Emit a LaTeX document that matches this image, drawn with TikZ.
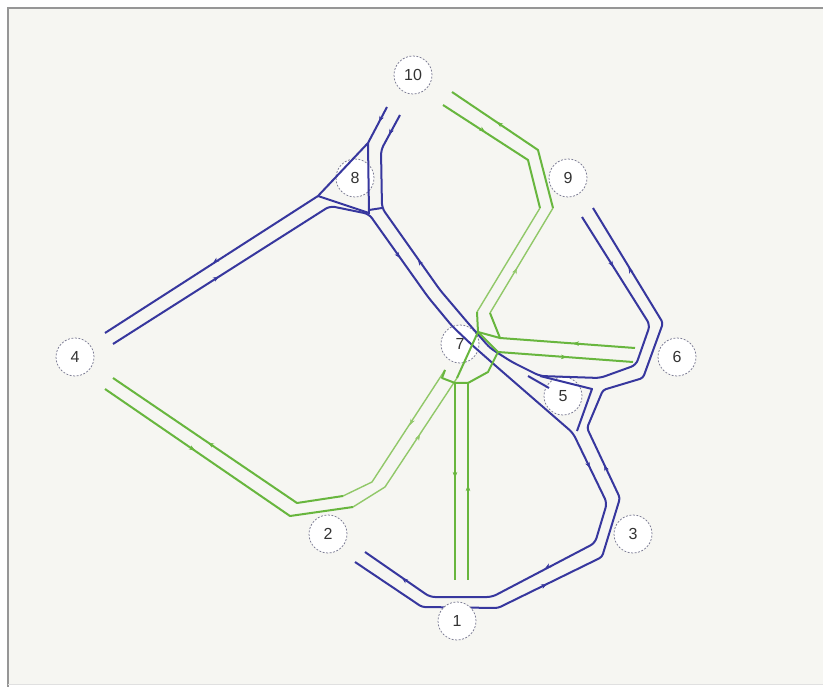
\documentclass[tikz,border=0pt]{standalone}
\usepackage{fontspec}
\setmainfont{Liberation Sans}
\usetikzlibrary{arrows.meta,decorations.markings}
\definecolor{rb}{RGB}{55,55,158}
\definecolor{rg}{RGB}{104,182,62}
\definecolor{rgl}{RGB}{145,200,105}
\definecolor{cir}{RGB}{115,115,140}
\definecolor{bgc}{RGB}{246,246,242}
\definecolor{framec}{RGB}{150,150,150}
\begin{document}
\begin{tikzpicture}[x=1pt,y=-1pt,
  blueln/.style={draw=rb, line width=2pt, line join=round},
  greenln/.style={draw=rg, line width=2pt, line join=round},
  lgreenln/.style={draw=rgl, line width=1.4pt, line join=round},
  stn/.style={circle, draw=cir, dash pattern=on 2pt off 1.5pt, line width=0.7pt, fill=white, minimum size=38pt, inner sep=0pt, font=\fontsize{16}{18}\selectfont, text=black!80},
  arr/.style={decoration={markings, mark=at position 0.5 with {\arrow{Stealth[length=6pt,width=4.5pt,color=#1]}}}, postaction={decorate}}
]
\useasboundingbox (0,0) rectangle (823,687);
\fill[white] (0,0) rectangle (823,687);
\fill[bgc] (8,8) rectangle (823,684);
\draw[framec, line width=2pt] (8,687) -- (8,8) -- (823,8);
\draw[black!12, line width=1pt] (8,684) -- (823,684);

% circles under the network
\node[stn] (n8) at (355,178) {8};
\node[stn] (n5) at (563,396) {5};
\node[stn] (n7) at (460,344) {7};

% blue roads
\draw[blueln] (387,107) -- (368,143) -- (318,196) -- (105,333);
\draw[blueln, rounded corners=5pt] (400,115) -- (381,150) -- (382,208) -- (440,290) -- (468,323) -- (490,348) -- (512,362) -- (540,376) -- (600,378) -- (636,365) -- (650,325) -- (582,217);
\draw[blueln, rounded corners=5pt] (113,344) -- (330,206) -- (369,214) -- (428,297) -- (452,326) -- (472,345) -- (497,367) -- (573,433) -- (607,503) -- (595,543) -- (492,597) -- (430,597) -- (365,552);
\draw[blueln, rounded corners=3pt] (593,208) -- (663,323) -- (643,378) -- (603,390) -- (587,428) -- (620,498) -- (602,557) -- (498,608) -- (422,607) -- (355,562);
\draw[blueln] (368,143) -- (369,214);
\draw[blueln] (318,196) -- (369,213);
\draw[blueln] (369,210) -- (382,208);
\draw[blueln] (540,376) -- (592,389) -- (577,431);
\draw[blueln] (528,376) -- (549,388);

% blue lane arrows
\path[arr=rb] (381,118) -- (377,126);
\path[arr=rb] (391,131) -- (387,139);
\path[arr=rb] (217,260) -- (209,266);
\path[arr=rb] (215,279) -- (223,274);
\path[arr=rb] (421,264) -- (415,255);
\path[arr=rb] (397,254) -- (403,262);
\path[arr=rb] (611,263) -- (616,271);
\path[arr=rb] (631,272) -- (626,263);
\path[arr=rb] (588,464) -- (592,472);
\path[arr=rb] (606,469) -- (602,461);
\path[arr=rb] (549,566) -- (541,571);
\path[arr=rb] (543,586) -- (551,582);
\path[arr=rb] (406,581) -- (398,575);

% green roads
\draw[greenln] (452,92) -- (538,150) -- (553,208);
\draw[lgreenln] (553,208) -- (490,313);
\draw[greenln] (443,105) -- (528,160) -- (540,208);
\draw[lgreenln] (540,208) -- (477,312);
\draw[greenln] (113,378) -- (297,503) -- (343,496);
\draw[lgreenln] (343,496) -- (372,482) -- (445,370);
\draw[greenln] (105,389) -- (290,516) -- (353,507);
\draw[lgreenln] (353,507) -- (385,487) -- (457,378);
\draw[greenln] (500,338) -- (635,348);
\draw[greenln] (498,352) -- (633,362);
\draw[greenln] (455,383) -- (455,580);
\draw[greenln] (468,383) -- (468,580);
% green junction at 7
\draw[greenln] (490,313) -- (500,338);
\draw[greenln] (477,312) -- (478,332) -- (500,338);
\draw[greenln] (478,332) -- (498,352);
\draw[greenln] (498,352) -- (488,372) -- (468,383);
\draw[greenln] (445,370) -- (442,378) -- (455,383) -- (468,383);
\draw[greenln] (457,378) -- (478,332);

% green lane arrows
\path[arr=rg] (501,125) -- (493,119);
\path[arr=rg] (481,129) -- (489,135);
\path[arr=rgl] (515,272) -- (519,264);
\path[arr=rg] (212,445) -- (204,440);
\path[arr=rg] (191,448) -- (199,453);
\path[arr=rgl] (412,421) -- (408,429);
\path[arr=rgl] (418,438) -- (422,431);
\path[arr=rg] (577,343.5) -- (569,343);
\path[arr=rg] (563,357) -- (571,357.5);
\path[arr=rg] (455,474) -- (455,482);
\path[arr=rg] (468,489) -- (468,481);

% remaining stations
\node[stn] (n10) at (413,75) {10};
\node[stn] (n9) at (568,178) {9};
\node[stn] (n4) at (75,357) {4};
\node[stn] (n6) at (677,357) {6};
\node[stn] (n2) at (328,534) {2};
\node[stn] (n3) at (633,534) {3};
\node[stn] (n1) at (457,621) {1};
\end{tikzpicture}
\end{document}
